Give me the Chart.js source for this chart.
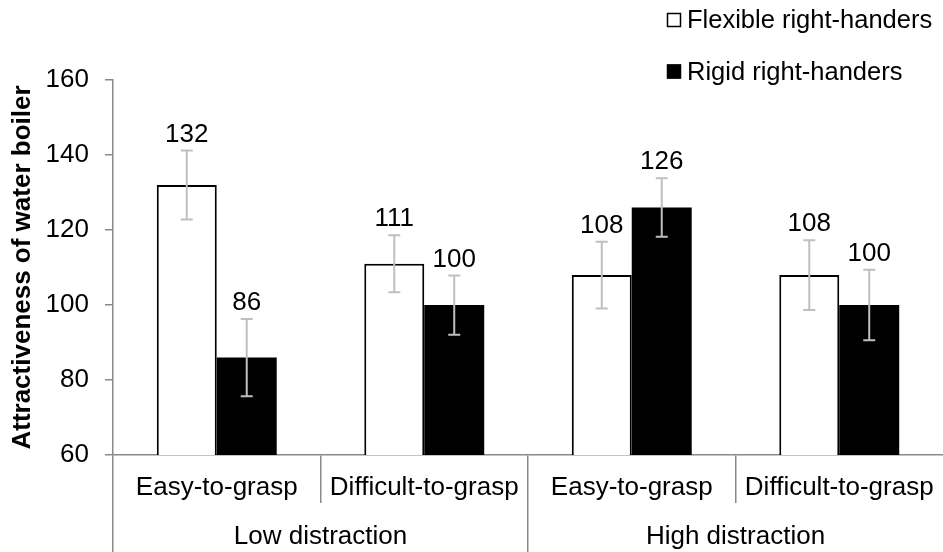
<!DOCTYPE html>
<html>
<head>
<meta charset="utf-8">
<title>Attractiveness of water boiler</title>
<script src="https://cdn.jsdelivr.net/npm/chart.js@4.4.0/dist/chart.umd.min.js"></script>
<style>
  html, body { margin: 0; padding: 0; background: #fff; }
  #wrap { width: 943px; height: 552px; }
</style>
</head>
<body>
<div id="wrap"><canvas id="chart" width="943" height="552"></canvas></div>
<script>
// data
var conditions = ["Easy-to-grasp", "Difficult-to-grasp", "Easy-to-grasp", "Difficult-to-grasp"];
var distraction = ["Low distraction", "High distraction"];
var flexible = [132, 111, 108, 108];
var rigid = [86, 100, 126, 100];
var flexibleErr = [9.2, 7.6, 8.9, 9.3];
var rigidErr = [10.3, 7.9, 7.8, 9.4];
var yTicks = [60, 80, 100, 120, 140, 160];

var axisGray = "#898989";
var FONT = "'Liberation Sans', Arial, sans-serif";

Chart.defaults.font.family = FONT;
Chart.defaults.font.size = 26;
Chart.defaults.color = "#000";

// separator lines between categories, none at the far right edge
function sepColor(c) {
  return c.type === "tick" ? axisGray : "rgba(0,0,0,0)";
}

// gray error bars plus the value written above each one
var errorBars = {
  id: "errorBars",
  afterDatasetsDraw: function (chart) {
    var ctx = chart.ctx;
    var y = chart.scales.y;
    chart.data.datasets.forEach(function (ds, di) {
      var meta = chart.getDatasetMeta(di);
      meta.data.forEach(function (bar, i) {
        var v = ds.data[i];
        var e = ds.errors[i];
        var top = y.getPixelForValue(v + e);
        var bot = y.getPixelForValue(v - e);
        ctx.save();
        ctx.strokeStyle = "#BFBFBF";
        ctx.lineWidth = 2;
        ctx.beginPath();
        ctx.moveTo(bar.x, top);
        ctx.lineTo(bar.x, bot);
        ctx.moveTo(bar.x - 6, top);
        ctx.lineTo(bar.x + 6, top);
        ctx.moveTo(bar.x - 6, bot);
        ctx.lineTo(bar.x + 6, bot);
        ctx.stroke();
        ctx.fillStyle = "#000";
        ctx.font = "26px " + FONT;
        ctx.textAlign = "center";
        ctx.textBaseline = "middle";
        ctx.fillText(String(v), bar.x, top - 16);
        ctx.restore();
      });
    });
  }
};

// legend stacked in two rows, top right
var stackedLegend = {
  id: "stackedLegend",
  afterDraw: function (chart) {
    var ctx = chart.ctx;
    var rows = [20, 71.5];
    ctx.save();
    ctx.font = "25.5px " + FONT;
    ctx.textBaseline = "middle";
    ctx.textAlign = "left";
    chart.data.datasets.forEach(function (ds, i) {
      var cy = rows[i];
      ctx.fillStyle = ds.backgroundColor;
      ctx.fillRect(667, cy - 7, 14, 14);
      ctx.strokeStyle = "#000";
      ctx.lineWidth = 1.5;
      ctx.strokeRect(667.5, cy - 6.5, 13, 13);
      ctx.fillStyle = "#000";
      ctx.fillText(ds.label, 687, cy + 1);
    });
    ctx.restore();
  }
};

var chart = new Chart(document.getElementById("chart").getContext("2d"), {
  type: "bar",
  data: {
    labels: conditions,
    datasets: [
      {
        label: "Flexible right-handers",
        data: flexible,
        errors: flexibleErr,
        backgroundColor: "#ffffff",
        borderColor: "#000000",
        borderWidth: 2
      },
      {
        label: "Rigid right-handers",
        data: rigid,
        errors: rigidErr,
        backgroundColor: "#000000",
        borderColor: "#000000",
        borderWidth: 0
      }
    ]
  },
  options: {
    responsive: false,
    animation: false,
    categoryPercentage: 0.578,
    barPercentage: 1,
    layout: { padding: { top: 80, right: 0, left: 0, bottom: 0 } },
    plugins: {
      legend: { display: false },
      tooltip: { enabled: false }
    },
    scales: {
      y: {
        min: 60,
        max: 160,
        afterBuildTicks: function (s) {
          s.ticks = yTicks.map(function (v) { return { value: v }; });
        },
        ticks: { color: "#000", padding: 16 },
        grid: { drawOnChartArea: false, drawTicks: true, tickLength: 8, color: axisGray, lineWidth: 1.5 },
        border: { color: axisGray, width: 1.5 },
        title: {
          display: true,
          text: "Attractiveness of water boiler",
          color: "#000",
          font: { size: 26, weight: "bold" },
          padding: { top: 7, bottom: 0 }
        },
        afterFit: function (s) { s.width = 113; }
      },
      x: {
        offset: true,
        weight: 0,
        grid: { offset: true, drawOnChartArea: false, drawTicks: true, tickLength: 48, color: sepColor, lineWidth: 1.5 },
        border: { color: axisGray, width: 1.5 },
        ticks: { color: "#000", padding: -31, maxRotation: 0, autoSkip: false },
        afterFit: function (s) { s.height = 48; }
      },
      x2: {
        type: "category",
        labels: distraction,
        position: "bottom",
        offset: true,
        weight: 1,
        grid: { offset: true, drawOnChartArea: false, drawTicks: true, tickLength: 49, color: sepColor, lineWidth: 1.5 },
        border: { display: false },
        ticks: { color: "#000", padding: -31, maxRotation: 0, autoSkip: false },
        afterFit: function (s) { s.height = 49; }
      }
    }
  },
  plugins: [errorBars, stackedLegend]
});
</script>
</body>
</html>
